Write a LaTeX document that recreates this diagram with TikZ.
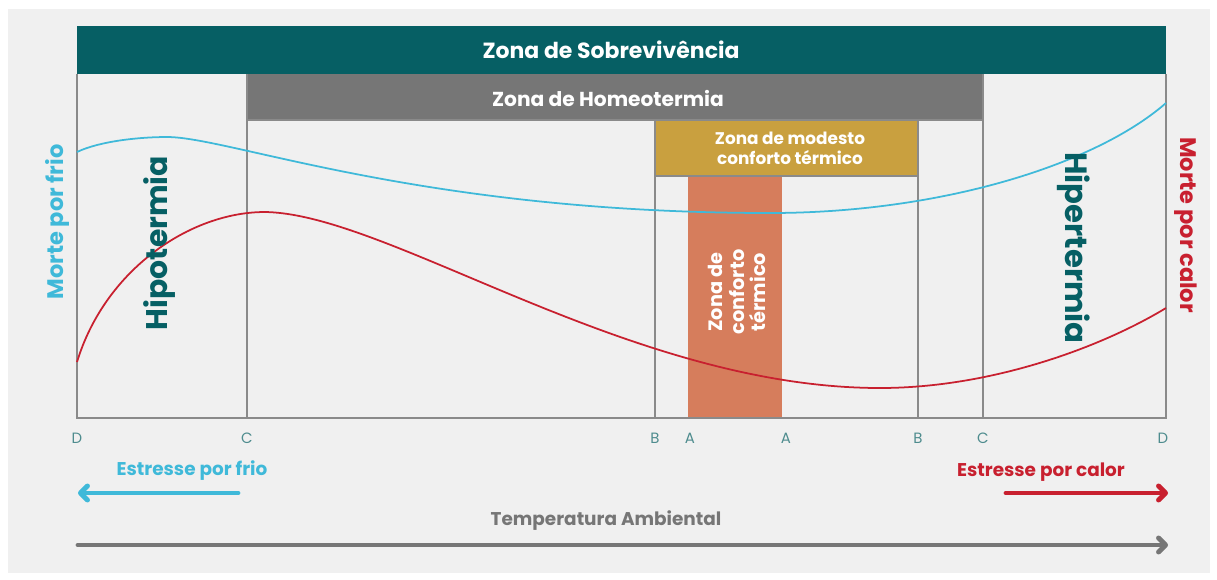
\documentclass[tikz,border=0pt]{standalone}
\usepackage{fontspec}
\setmainfont{Poppins}
\usetikzlibrary{arrows.meta}
\definecolor{zteal}{HTML}{065F64}
\definecolor{zgray}{HTML}{767676}
\definecolor{zgold}{HTML}{C9A03F}
\definecolor{zorange}{HTML}{D67D5C}
\definecolor{zcyan}{HTML}{3FB9D9}
\definecolor{zred}{HTML}{C8202F}
\definecolor{zline}{HTML}{8A8A8A}
\definecolor{zletter}{HTML}{4E8C8E}
\definecolor{zbg}{HTML}{F0F0F0}
\begin{document}
\begin{tikzpicture}[x=0.02cm,y=-0.02cm,
    bar/.style={inner sep=0pt,font=\bfseries\fontsize{11.5}{13}\selectfont,text=white},
    tick/.style={font=\fontsize{8.5}{9}\selectfont,text=zletter},
    zline/.style={draw=zline,line width=1.1pt},
    curve/.style={line width=1pt},
    bigarrow/.style={line width=2.8pt,line cap=round,-{Straight Barb[length=4pt,width=8pt,round]}}]
  \useasboundingbox (0,0) rectangle (1217,579);
  \fill[white] (0,0) rectangle (1217,579);
  \fill[zbg] (8,9) rectangle (1210,573);
  % bars
  \fill[zteal] (77,26) rectangle (1166,74);
  \fill[zgray] (247,74) rectangle (983,120);
  \fill[zgold] (655,120) rectangle (918,176);
  \fill[zorange] (688,176) rectangle (782,418);
  % frame and zone lines
  \draw[zline] (77,74) -- (77,418) -- (1166,418) -- (1166,74);
  \draw[zline] (247,74) -- (247,418);
  \draw[zline] (983,74) -- (983,418);
  \draw[zline] (655,120) -- (655,418);
  \draw[zline] (918,120) -- (918,418);
  \draw[zline] (247,120) -- (983,120);
  \draw[zline] (655,176) -- (918,176);
  % curves
  \draw[curve,zcyan] (77,152) .. controls (100,141) and (140,137) .. (167,137)
    .. controls (230,137) and (420,213) .. (770,213)
    .. controls (940,213) and (1095,165) .. (1166,103);
  \draw[curve,zred] (77,362) .. controls (105,270) and (190,212) .. (265,212)
    .. controls (390,214) and (630,388) .. (880,388)
    .. controls (990,388) and (1100,348) .. (1166,308);
  % texts
  \node[bar,font=\bfseries\fontsize{12.5}{14}\selectfont] (sobre) at (611,50) {Zona de Sobrevivência};
  \node[bar] (homeo) at (608,98) {Zona de Homeotermia};
  \node[bar,align=center,font=\bfseries\fontsize{9.6}{11.5}\selectfont] (modesto) at (790,148) {Zona de modesto\\conforto térmico};
  \node[bar,align=center,rotate=90,font=\bfseries\fontsize{11}{12.3}\selectfont] (conforto) at (737,292) {Zona de\\conforto\\térmico};
  \node[rotate=90,text=zteal,font=\bfseries\fontsize{17}{20}\selectfont] (hipo) at (160,243) {Hipotermia};
  \node[rotate=-90,text=zteal,font=\bfseries\fontsize{17.5}{20}\selectfont] (hiper) at (1074,248) {Hipertermia};
  \node[rotate=90,text=zcyan,font=\bfseries\fontsize{12.8}{14}\selectfont] (mfrio) at (57,222) {Morte por frio};
  \node[rotate=-90,text=zred,font=\bfseries\fontsize{12.8}{14}\selectfont] (mcalor) at (1186,225) {Morte por calor};
  \node[tick] (d1) at (77,438) {D};
  \node[tick] (c1) at (247,438) {C};
  \node[tick] (b1) at (655,438) {B};
  \node[tick] (a1) at (690,438) {A};
  \node[tick] (a2) at (786,438) {A};
  \node[tick] (b2) at (918,438) {B};
  \node[tick] (c2) at (983,438) {C};
  \node[tick] (d2) at (1163,438) {D};
  \node[text=zcyan,font=\bfseries\fontsize{10.5}{12}\selectfont] (efrio) at (192,471) {Estresse por frio};
  \node[text=zred,font=\bfseries\fontsize{10.5}{12}\selectfont] (ecalor) at (1041,472) {Estresse por calor};
  \node[text=zgray,font=\bfseries\fontsize{10.5}{12}\selectfont] (temp) at (606,521) {Temperatura Ambiental};
  % arrows
  \coordinate (frioA) at (238,493);
  \coordinate (frioB) at (78,493);
  \coordinate (calorA) at (1006,493);
  \coordinate (calorB) at (1168,493);
  \coordinate (tempA) at (78,545);
  \coordinate (tempB) at (1168,545);
  \draw[bigarrow,zcyan] (frioA) -- (frioB);
  \draw[bigarrow,zred] (calorA) -- (calorB);
  \draw[bigarrow,zgray] (tempA) -- (tempB);
\end{tikzpicture}
\end{document}
